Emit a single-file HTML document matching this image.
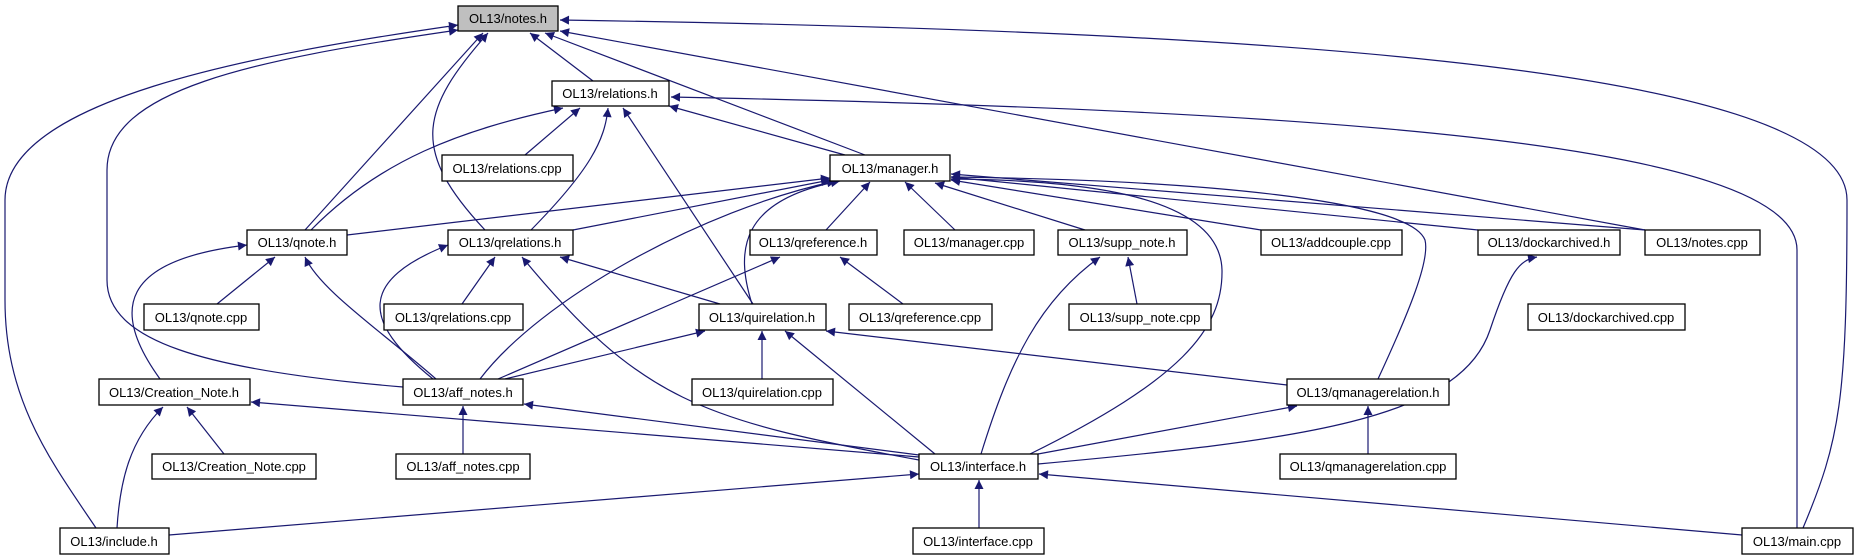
<!DOCTYPE html>
<html><head><meta charset="utf-8"><style>
html,body{margin:0;padding:0;background:#fff;}
svg{display:block}
text{font-family:"Liberation Sans",Arial,sans-serif;font-size:13px;fill:#000;}
</style></head><body>
<svg width="1858" height="560" viewBox="0 0 1858 560" xmlns="http://www.w3.org/2000/svg">
<defs>
<marker id="a" viewBox="0 0 10 10" refX="10" refY="5" markerWidth="11" markerHeight="9" markerUnits="userSpaceOnUse" orient="auto">
<path d="M0,0 L10,5 L0,10 z" fill="#191970"/>
</marker>
</defs>
<g fill="none" stroke="#191970" stroke-width="1.2" marker-end="url(#a)">
<path d="M593,81 L530,33"/>
<path d="M305,230 L483,33"/>
<path d="M485,230 C410,150 420,110 488,33"/>
<path d="M865,155 L545,33"/>
<path d="M1645,230 L560,31"/>
<path d="M1803,528 C1840,440 1847,400 1847,200 C1847,60 1200,30 560,20"/>
<path d="M1797,528 L1797,250 C1797,140 1300,110 671,97"/>
<path d="M96,528 C50,460 5,400 5,300 L5,200 C5,100 250,55 458,25"/>
<path d="M403,387 C200,370 107,340 107,280 L107,170 C107,90 250,60 458,30"/>
<path d="M311,230 C380,160 460,130 563,108"/>
<path d="M525,155 L580,108"/>
<path d="M531,230 C590,170 605,140 608,108"/>
<path d="M753,304 L623,108"/>
<path d="M845,155 L669,106"/>
<path d="M347,235 L830,178"/>
<path d="M573,230 L830,180"/>
<path d="M480,379 C540,300 700,210 836,181"/>
<path d="M752,304 C735,250 740,200 840,181"/>
<path d="M826,230 L870,182"/>
<path d="M955,230 L905,182"/>
<path d="M1085,230 L935,183"/>
<path d="M1261,230 L951,180"/>
<path d="M1478,230 L951,177"/>
<path d="M1645,230 L951,174"/>
<path d="M1030,454 C1180,380 1223,330 1222,270 C1220,200 1100,180 951,179"/>
<path d="M1378,379 C1410,310 1430,260 1425,240 C1410,200 1200,180 951,177"/>
<path d="M217,304 L275,257"/>
<path d="M436,379 C380,330 320,290 305,257"/>
<path d="M160,379 C110,310 120,260 247,245"/>
<path d="M433,379 C360,320 360,280 448,245"/>
<path d="M462,304 L495,257"/>
<path d="M720,304 L560,257"/>
<path d="M919,460 C700,420 640,400 522,257"/>
<path d="M903,304 L840,257"/>
<path d="M498,379 L780,257"/>
<path d="M762,379 L762,331"/>
<path d="M505,379 L705,331"/>
<path d="M935,454 L785,331"/>
<path d="M1287,385 L826,331"/>
<path d="M1137,304 L1128,257"/>
<path d="M981,454 C1010,360 1040,300 1100,257"/>
<path d="M1038,464 C1300,440 1460,420 1490,330 C1510,270 1520,260 1537,257"/>
<path d="M1038,454 L1297,406"/>
<path d="M1368,454 L1368,406"/>
<path d="M919,457 L251,402"/>
<path d="M919,455 L524,404"/>
<path d="M224,454 L187,407"/>
<path d="M117,528 C120,480 130,440 163,407"/>
<path d="M463,454 L463,406"/>
<path d="M169,535 L919,474"/>
<path d="M979,528 L979,480"/>
<path d="M1742,535 L1039,474"/>
</g>
<g stroke="#000" stroke-width="1.3" fill="#fff">
<rect x="458" y="6" width="100" height="25" fill="#bfbfbf"/>
<rect x="552" y="81" width="117" height="25"/>
<rect x="442" y="155" width="131" height="26"/>
<rect x="830" y="155" width="120" height="26"/>
<rect x="247" y="230" width="100" height="25"/>
<rect x="448" y="230" width="125" height="25"/>
<rect x="750" y="230" width="127" height="25"/>
<rect x="904" y="230" width="130" height="25"/>
<rect x="1058" y="230" width="129" height="25"/>
<rect x="1261" y="230" width="141" height="25"/>
<rect x="1478" y="230" width="142" height="25"/>
<rect x="1645" y="230" width="115" height="25"/>
<rect x="144" y="304" width="115" height="26"/>
<rect x="384" y="304" width="139" height="26"/>
<rect x="699" y="304" width="127" height="26"/>
<rect x="849" y="304" width="143" height="26"/>
<rect x="1069" y="304" width="142" height="26"/>
<rect x="1528" y="304" width="157" height="26"/>
<rect x="99" y="379" width="151" height="26"/>
<rect x="403" y="379" width="120" height="26"/>
<rect x="692" y="379" width="141" height="26"/>
<rect x="1287" y="379" width="162" height="26"/>
<rect x="152" y="454" width="164" height="25"/>
<rect x="396" y="454" width="134" height="25"/>
<rect x="919" y="454" width="119" height="25"/>
<rect x="1280" y="454" width="176" height="25"/>
<rect x="60" y="528" width="109" height="26"/>
<rect x="913" y="528" width="131" height="26"/>
<rect x="1742" y="528" width="111" height="26"/>
</g>
<g text-anchor="middle">
<text x="508" y="23">OL13/notes.h</text>
<text x="610" y="98">OL13/relations.h</text>
<text x="507" y="173">OL13/relations.cpp</text>
<text x="890" y="173">OL13/manager.h</text>
<text x="297" y="247">OL13/qnote.h</text>
<text x="510" y="247">OL13/qrelations.h</text>
<text x="813" y="247">OL13/qreference.h</text>
<text x="969" y="247">OL13/manager.cpp</text>
<text x="1122" y="247">OL13/supp_note.h</text>
<text x="1331" y="247">OL13/addcouple.cpp</text>
<text x="1549" y="247">OL13/dockarchived.h</text>
<text x="1702" y="247">OL13/notes.cpp</text>
<text x="201" y="322">OL13/qnote.cpp</text>
<text x="453" y="322">OL13/qrelations.cpp</text>
<text x="762" y="322">OL13/quirelation.h</text>
<text x="920" y="322">OL13/qreference.cpp</text>
<text x="1140" y="322">OL13/supp_note.cpp</text>
<text x="1606" y="322">OL13/dockarchived.cpp</text>
<text x="174" y="397">OL13/Creation_Note.h</text>
<text x="463" y="397">OL13/aff_notes.h</text>
<text x="762" y="397">OL13/quirelation.cpp</text>
<text x="1368" y="397">OL13/qmanagerelation.h</text>
<text x="234" y="471">OL13/Creation_Note.cpp</text>
<text x="463" y="471">OL13/aff_notes.cpp</text>
<text x="978" y="471">OL13/interface.h</text>
<text x="1368" y="471">OL13/qmanagerelation.cpp</text>
<text x="114" y="546">OL13/include.h</text>
<text x="978" y="546">OL13/interface.cpp</text>
<text x="1797" y="546">OL13/main.cpp</text>
</g>
</svg>
</body></html>
